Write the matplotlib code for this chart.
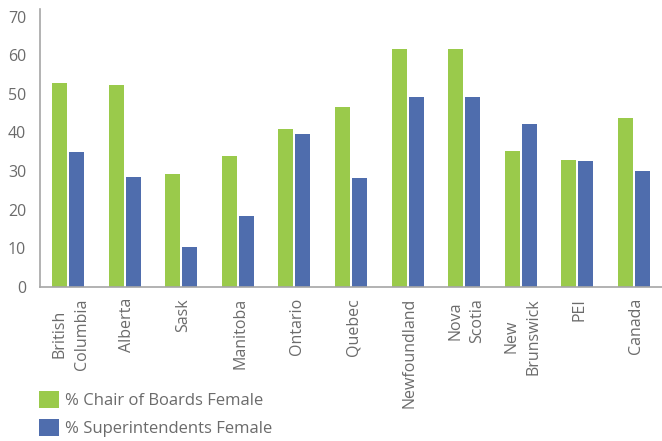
import matplotlib.pyplot as plt
import numpy as np
from matplotlib.patches import Patch

plt.rcParams['font.family'] = ['Open Sans', 'DejaVu Sans']

# data
provinces = ['British\nColumbia', 'Alberta', 'Sask', 'Manitoba', 'Ontario', 'Quebec',
             'Newfoundland', 'Nova\nScotia', 'New\nBrunswick', 'PEI', 'Canada']
chairs_female = [52.9, 52.4, 29.3, 34.0, 41.0, 46.7, 61.7, 61.7, 35.3, 32.9, 43.8]
supers_female = [35.0, 28.5, 10.4, 18.4, 39.7, 28.3, 49.3, 49.3, 42.3, 32.7, 30.1]
yticks = [0, 10, 20, 30, 40, 50, 60, 70]

green = '#9ACA4B'
blue = '#4F6DAD'
grey_txt = '#6b6b6b'
grey_axis = '#a6a6a6'

fig = plt.figure(figsize=(6.62, 4.41), dpi=100)
ax = fig.add_axes([0.0604, 0.349, 0.9396, 0.631])

x = np.arange(len(provinces))
w = 0.265
ax.bar(x - 0.15, chairs_female, w, color=green)
ax.bar(x + 0.15, supers_female, w, color=blue)

ax.set_xlim(-0.5, len(provinces) - 0.5)
ax.set_ylim(0, 72)
ax.set_yticks(yticks)
ax.set_yticklabels([str(t) for t in yticks], fontsize=11.5, color=grey_txt)
ax.set_xticks(x + 0.04)
ax.set_xticklabels(provinces, rotation=90, fontsize=11.5, color=grey_txt,
                   ha='center', va='top', multialignment='center', linespacing=1.5)
ax.tick_params(axis='both', length=0)
ax.tick_params(axis='x', pad=8)
ax.tick_params(axis='y', pad=10)

for s in ['top', 'right']:
    ax.spines[s].set_visible(False)
for s in ['left', 'bottom']:
    ax.spines[s].set_color(grey_axis)
    ax.spines[s].set_linewidth(1.2)

handles = [Patch(facecolor=green, label='% Chair of Boards Female'),
           Patch(facecolor=blue, label='% Superintendents Female')]
leg = fig.legend(handles=handles, loc='upper left', bbox_to_anchor=(39 / 662, 1 - 391 / 441),
                 frameon=False, fontsize=12, handlelength=1.2, handleheight=1.2,
                 handletextpad=0.36, labelspacing=0.6, borderaxespad=0, borderpad=0)
for t in leg.get_texts():
    t.set_color(grey_txt)

fig.savefig('out.png', dpi=100)
